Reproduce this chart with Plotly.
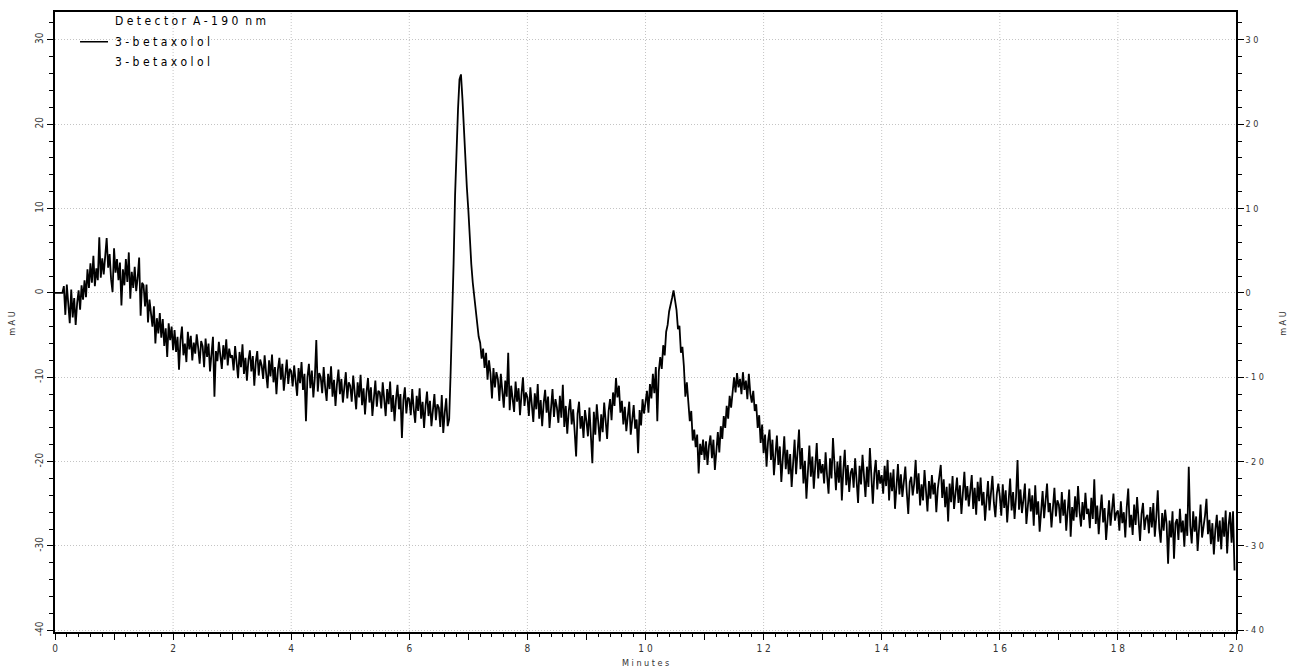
import numpy as np
import plotly.graph_objects as go

# Detector A, 190 nm trace, sampled every 0.025 min from t = 0
sample_start = 0.0
sample_step = 0.025

signal_0_5 = [
    0.0, 0.0, 0.0, 0.0, 0.0, 0.0, 0.8, -2.6, 1.0, -1.8, -3.6, 0.4, -2.9, -0.6, -3.8, -1.2, 0.3, -2.0, 0.9, -0.8,
    1.5, -0.5, 2.8, 0.6, 3.5, 1.2, 4.4, 0.8, 2.9, 1.5, 6.6, 1.8, 4.1, 2.2, 5.0, 6.5, 3.0, 4.6, 1.6, 0.1,
    5.3, 2.4, 4.0, 1.5, 3.6, -1.5, 2.8, 0.9, 4.0, 1.3, 4.8, -0.7, 2.5, 0.6, 3.1, 0.2, 1.8, 4.2, -2.7, 1.2,
    0.9, -1.6, 1.0, -3.5, -0.8, -2.2, -4.0, -1.6, -6.0, -3.0, -4.8, -2.4, -5.3, -3.1, -6.3, -4.2, -7.6, -3.6, -5.6, -4.0,
    -6.8, -4.4, -7.0, -5.2, -9.1, -5.6, -4.0, -7.4, -6.0, -8.2, -4.6, -6.7, -5.1, -8.0, -5.9, -7.2, -4.9, -6.5, -8.4, -5.7,
    -6.3, -8.8, -5.4, -7.6, -6.0, -9.3, -6.8, -5.2, -12.3, -6.9, -8.1, -5.8, -7.4, -9.0, -6.2, -7.9, -5.5, -8.6, -6.6, -7.7,
    -7.4, -9.2, -6.3, -8.5, -10.1, -7.0, -8.8, -6.1, -9.6, -7.7, -10.4, -8.0, -6.8, -9.3, -7.5, -11.0, -8.2, -6.9, -9.8, -7.9,
    -8.6, -10.2, -7.4, -9.5, -11.3, -8.0, -9.9, -7.3, -10.6, -8.8, -12.0, -9.1, -7.7, -10.3, -8.4, -11.6, -9.4, -7.9, -10.8, -9.0,
    -9.3, -11.1, -8.6, -10.4, -12.2, -8.9, -10.7, -8.2, -11.5, -9.6, -15.2, -10.0, -8.4, -11.3, -9.2, -12.4, -10.1, -5.6, -11.7, -9.5,
    -10.0, -11.9, -8.8, -11.2, -12.8, -9.6, -11.4, -8.7, -12.3, -10.3, -13.4, -10.8, -9.1, -12.0, -10.2, -13.0, -10.9, -9.4, -12.5, -10.6,
]

signal_5_10 = [
    -11.0, -12.9, -9.8, -12.2, -13.8, -10.6, -12.4, -9.7, -13.3, -11.3, -14.4, -11.8, -10.1, -13.0, -11.2, -14.6, -11.9, -10.4, -13.5, -11.6,
    -11.8, -13.7, -10.6, -13.0, -14.6, -11.4, -13.2, -10.5, -14.1, -12.1, -15.2, -12.6, -10.9, -13.8, -12.0, -17.2, -12.7, -11.2, -14.3, -12.4,
    -12.6, -14.5, -11.4, -13.8, -15.4, -12.2, -14.0, -11.3, -14.9, -12.9, -16.0, -13.4, -11.7, -14.6, -12.8, -15.8, -13.5, -12.0, -15.1, -13.2,
    -13.6, -15.9, -12.1, -16.6, -14.2, -12.5, -15.8, -15.0, -9.4, -3.5, 3.5, 11.5, 17.5, 21.8, 25.3, 25.9, 23.0, 19.0, 15.5, 12.5,
    9.8, 6.0, 3.4, 1.2, -0.6, -2.4, -3.6, -5.2, -5.9, -7.8, -6.6, -8.9, -7.1, -10.3, -8.0, -9.6, -12.5, -8.9, -11.2, -9.4,
    -10.2, -12.8, -9.6, -11.9, -13.6, -10.4, -12.3, -7.1, -13.9, -11.0, -12.6, -14.1, -10.5, -12.9, -11.3, -14.5, -12.0, -10.0, -13.4, -11.8,
    -12.4, -14.6, -11.2, -13.5, -15.3, -11.9, -13.8, -10.8, -14.9, -12.7, -15.8, -13.1, -11.5, -14.2, -12.3, -16.0, -13.3, -11.4, -14.7, -12.6,
    -13.6, -15.4, -12.2, -14.8, -10.9, -15.9, -13.4, -16.7, -14.0, -12.6, -15.6, -13.8, -16.4, -19.4, -14.3, -12.9, -16.1, -14.6, -17.2, -13.9,
    -15.2, -17.0, -13.6, -16.3, -20.2, -14.1, -16.8, -13.2, -15.9, -17.6, -14.4, -16.5, -13.0, -15.8, -17.3, -14.0, -12.6, -15.1, -11.8, -13.4,
    -10.1, -12.4, -11.0, -14.2, -12.8, -15.6, -13.5, -16.4, -14.1, -12.9, -16.8, -14.7, -13.3, -16.1, -15.0, -19.0, -13.9, -15.7, -12.6, -14.3,
]

signal_10_15 = [
    -13.0, -11.6, -14.2, -10.8, -12.5, -9.6, -11.9, -8.8, -15.2, -9.3, -7.6, -9.0, -6.2, -7.4, -4.6, -3.8, -2.2, -1.5, -0.6, 0.3,
    -1.2, -2.0, -4.3, -3.9, -7.1, -6.4, -8.7, -12.3, -10.6, -13.5, -15.2, -14.0, -17.5, -16.2, -18.3, -16.8, -21.4, -17.9, -19.2, -17.4,
    -19.8, -17.6, -20.4, -18.1, -16.9, -19.6, -17.4, -21.0, -18.2, -16.5, -18.9, -15.8, -17.3, -14.6, -16.0, -13.4, -14.9, -12.2, -13.6, -11.4,
    -10.0, -11.8, -9.5, -11.2, -10.2, -12.0, -9.4, -11.5, -10.4, -12.6, -9.6, -11.9, -13.0, -11.6, -14.0, -13.2, -16.0, -14.5, -17.8, -15.6,
    -19.0, -16.8, -20.6, -17.6, -16.2, -19.8, -17.4, -21.6, -18.8, -16.9, -20.4, -18.2, -22.4, -19.3, -17.0, -20.9, -18.6, -21.5, -19.1, -23.0,
    -19.6, -17.4, -21.5, -18.8, -16.2, -20.9, -18.4, -22.6, -19.9, -24.4, -20.6, -18.1, -21.8, -19.4, -23.2, -20.2, -17.8, -22.0, -19.7, -21.4,
    -20.3, -22.6, -18.9, -21.7, -23.8, -19.6, -22.0, -17.2, -21.2, -23.4, -20.0, -22.5, -19.3, -24.6, -21.0, -18.6, -22.8, -20.4, -23.6, -21.3,
    -20.8, -23.1, -19.6, -22.3, -24.9, -20.5, -22.7, -19.2, -21.9, -24.2, -20.6, -23.0, -18.4, -22.1, -25.0, -21.4, -19.8, -23.3, -21.0, -22.6,
    -21.6, -23.8, -20.5, -22.9, -19.8, -24.6, -21.3, -23.5, -20.9, -25.6, -22.2, -20.3, -23.9, -21.5, -24.2, -22.0, -20.6, -23.7, -26.2, -22.4,
    -21.8, -24.0, -22.6, -19.8, -23.8, -21.4, -25.2, -22.7, -24.6, -21.0, -23.3, -25.9, -22.3, -24.4, -21.6, -23.9, -22.5, -26.0, -23.2, -21.9,
]

signal_15_20 = [
    -20.4, -24.3, -22.1, -25.4, -23.0, -27.1, -22.6, -24.8, -21.7, -25.6, -23.4, -21.9, -24.9, -22.8, -26.2, -23.5, -21.2, -24.6, -22.9, -25.3,
    -23.7, -21.6, -25.6, -23.1, -26.3, -22.4, -24.7, -21.9, -25.2, -23.6, -27.0, -24.0, -22.3, -25.8, -23.3, -21.7, -24.9, -26.6, -23.8, -22.6,
    -24.1, -26.4, -22.7, -25.5, -23.4, -27.2, -24.6, -22.0, -25.8, -23.6, -26.8, -24.2, -19.8, -25.7, -23.3, -26.1, -24.5, -22.6, -27.4, -24.8,
    -23.2, -25.9, -24.0, -27.6, -22.8, -26.3, -24.7, -28.3, -25.1, -23.5, -26.7, -24.4, -22.6, -26.0, -24.9, -27.8, -25.3, -23.1, -26.5, -24.6,
    -25.1, -27.3, -23.6, -26.4, -24.5, -28.2, -25.8, -23.3, -28.9, -25.4, -27.0, -24.1, -26.6, -22.9, -25.9, -27.7, -24.8, -26.9, -23.7, -26.2,
    -25.6, -27.9, -24.3, -26.8, -22.1, -27.4, -25.2, -28.6, -26.0, -23.9, -27.2, -25.5, -29.3, -26.4, -24.6, -27.6, -25.9, -23.8, -27.0, -26.1,
    -25.8, -28.2, -24.7, -27.3, -26.0, -29.0, -25.4, -23.2, -27.8, -26.3, -28.7, -25.1, -27.5, -24.2, -26.9, -29.4, -26.2, -24.9, -28.1, -26.7,
    -26.3, -28.5, -25.4, -27.8, -24.9, -28.9, -26.6, -23.4, -27.9, -29.6, -26.1, -28.2, -25.7, -27.4, -32.1, -27.0, -29.0, -25.9, -31.5, -27.3,
    -26.8, -29.3, -25.6, -28.4, -27.0, -30.1, -26.2, -28.8, -20.6, -27.6, -29.7, -25.9, -28.3, -26.5, -30.6, -27.3, -25.1, -29.0, -27.7, -26.4,
    -24.4, -28.6, -26.9, -29.8, -27.3, -31.0, -28.1, -26.3, -29.5, -27.0, -30.4, -26.6, -28.9, -25.8, -30.9, -27.5, -26.0, -29.6, -25.9, -32.9,
]

x_tick_values = list(range(0, 21))
x_tick_labels = ["0", "", "2", "", "4", "", "6", "", "8", "", "1 0", "",
                 "1 2", "", "1 4", "", "1 6", "", "1 8", "", "2 0"]
y_tick_values = [30, 20, 10, 0, -10, -20, -30, -40]
y_left_labels = ["30", "20", "10", "0", "-10", "-20", "-30", "-40"]
y_right_labels = ["3 0", "2 0", "1 0", "0", "- 1 0", "- 2 0", "- 3 0", "- 4 0"]

legend_header = "D e t e c t o r  A - 1 9 0  n m"
trace_label = "3 - b e t a x o l o l"
x_title = "M i n u t e s"
y_title = "m A U"

absorbance = signal_0_5 + signal_5_10 + signal_10_15 + signal_15_20
minutes = sample_start + sample_step * np.arange(len(absorbance))

FONT = "DejaVu Sans Condensed, Liberation Sans Narrow, sans-serif"
TICK_COLOR = "#333333"
GRID_COLOR = "#c4c4c4"
GRID_DASH = "1px,2px"
Y_RANGE = [-40.2, 33.3]

fig = go.Figure()
fig.add_trace(go.Scatter(
    x=minutes, y=absorbance, mode="lines",
    line=dict(color="black", width=1.8),
    showlegend=False, hoverinfo="skip",
))
# same trace bound to the right-hand axis so that axis is rendered
fig.add_trace(go.Scatter(
    x=minutes, y=absorbance, mode="lines", yaxis="y2",
    line=dict(color="rgba(0,0,0,0)", width=0),
    showlegend=False, hoverinfo="skip",
))

fig.update_layout(
    width=1289, height=670,
    margin=dict(l=55, r=53, t=10, b=38),
    paper_bgcolor="white", plot_bgcolor="white",
    font=dict(family=FONT, size=10, color=TICK_COLOR),
    xaxis=dict(
        range=[0, 20], tickmode="array", tickvals=x_tick_values, ticktext=x_tick_labels,
        ticks="outside", ticklen=6, tickwidth=1.2, tickcolor="black",
        minor=dict(dtick=0.2, ticks="outside", ticklen=3, tickwidth=1, tickcolor="black", showgrid=False),
        showline=True, linecolor="black", linewidth=1.5, mirror=True,
        zeroline=False, showgrid=False,
        tickfont=dict(family=FONT, size=10, color=TICK_COLOR),
    ),
    yaxis=dict(
        range=Y_RANGE, tickmode="array", tickvals=y_tick_values, ticktext=y_left_labels,
        tickangle=-90, ticks="outside", ticklen=6, tickwidth=1.2, tickcolor="black",
        minor=dict(dtick=2, ticks="outside", ticklen=4, tickwidth=1, tickcolor="black", showgrid=False),
        showline=True, linecolor="black", linewidth=1.5, zeroline=False,
        showgrid=True, gridcolor=GRID_COLOR, gridwidth=1, griddash=GRID_DASH,
        tickfont=dict(family=FONT, size=10, color=TICK_COLOR),
    ),
    yaxis2=dict(
        range=Y_RANGE, overlaying="y", side="right", tickmode="array",
        tickvals=y_tick_values, ticktext=y_right_labels,
        ticks="outside", ticklen=6, tickwidth=1.2, tickcolor="black",
        minor=dict(dtick=2, ticks="outside", ticklen=4, tickwidth=1, tickcolor="black", showgrid=False),
        showline=True, linecolor="black", linewidth=1.5, zeroline=False, showgrid=False,
        tickfont=dict(family=FONT, size=9, color=TICK_COLOR),
    ),
)

# vertical grid lines at the labelled minute marks
for xv, lab in zip(x_tick_values, x_tick_labels):
    if lab and 0 < xv < 20:
        fig.add_shape(type="line", xref="x", yref="paper", x0=xv, x1=xv, y0=0, y1=1,
                      line=dict(color=GRID_COLOR, width=1, dash=GRID_DASH), layer="below")

# legend block
legend_font = dict(family=FONT, size=12, color="#000000")
fig.add_annotation(text=legend_header, xref="paper", yref="paper",
                   x=0.0491, y=0.986, xanchor="left", yanchor="middle", showarrow=False, font=legend_font)
fig.add_annotation(text=trace_label, xref="paper", yref="paper",
                   x=0.0491, y=0.952, xanchor="left", yanchor="middle", showarrow=False, font=legend_font)
fig.add_annotation(text=trace_label, xref="paper", yref="paper",
                   x=0.0491, y=0.919, xanchor="left", yanchor="middle", showarrow=False, font=legend_font)
fig.add_shape(type="line", xref="paper", yref="paper", x0=0.0212, x1=0.0449, y0=0.952, y1=0.952,
              line=dict(color="black", width=1.5))

# axis titles
title_font = dict(family=FONT, size=9, color=TICK_COLOR)
fig.add_annotation(text=y_title, xref="paper", yref="paper", x=-0.0364, y=0.497,
                   textangle=-90, showarrow=False, font=title_font, xanchor="center", yanchor="middle")
fig.add_annotation(text=y_title, xref="paper", yref="paper", x=1.0398, y=0.497,
                   textangle=-90, showarrow=False, font=title_font, xanchor="center", yanchor="middle")
fig.add_annotation(text=x_title, xref="paper", yref="paper", x=0.5, y=-0.0498,
                   showarrow=False, font=title_font, xanchor="center", yanchor="middle")

fig.write_html("out.html")
